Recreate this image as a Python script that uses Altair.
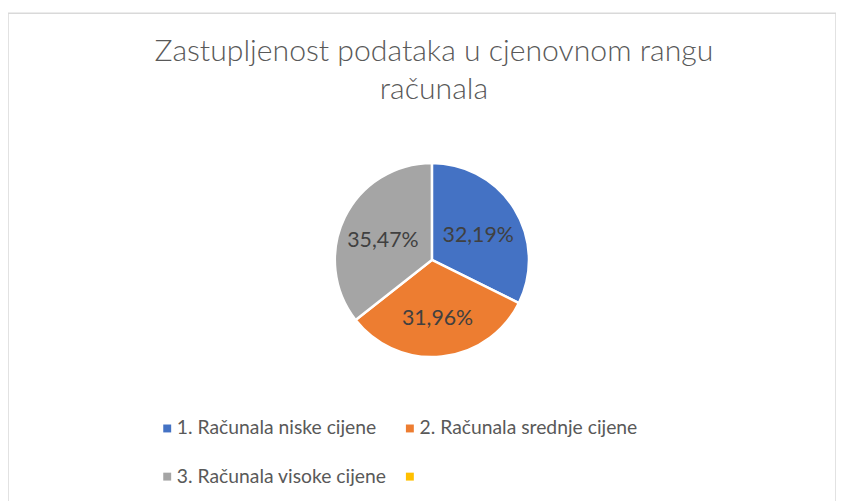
import altair as alt
import pandas as pd

title_lines = ["Zastupljenost podataka u cjenovnom rangu", "računala"]
categories = ["1. Računala niske cijene", "2. Računala srednje cijene", "3. Računala visoke cijene"]
legend_domain = categories + [""]
values = [32.19, 31.96, 35.47]
labels = ["32,19%", "31,96%", "35,47%"]
colors = ["#4472C4", "#ED7D31", "#A5A5A5", "#FFC000"]

df = pd.DataFrame({"kategorija": categories, "udio": values, "oznaka": labels, "red": [1, 2, 3]})

CX, CY, R = 428, 249, 98

base = alt.Chart(df).encode(
    theta=alt.Theta("udio:Q", stack=True),
    order=alt.Order("red:Q"),
)

arc = base.mark_arc(outerRadius=R, stroke="white", strokeWidth=2.5).encode(
    x=alt.value(CX),
    y=alt.value(CY),
    color=alt.Color(
        "kategorija:N",
        scale=alt.Scale(domain=legend_domain, range=colors),
        legend=alt.Legend(
            title=None,
            orient="none",
            legendX=151,
            legendY=409,
            columns=2,
            direction="horizontal",
            symbolType="square",
            symbolSize=64,
            symbolStrokeWidth=0,
            labelFont="Lato",
            labelFontSize=19.5,
            labelColor="#595959",
            labelOffset=0,
            columnPadding=13,
            rowPadding=28,
            labelLimit=400,
        ),
    ),
)

text = base.mark_text(radius=55, font="Lato", fontSize=21.5, color="#404040", dy=5).encode(
    x=alt.value(CX),
    y=alt.value(CY),
    text="oznaka:N",
)

chart = (
    alt.layer(arc, text)
    .properties(
        width=836,
        height=495,
        autosize=alt.AutoSizeParams(type="none"),
        padding={"left": 0, "top": 3, "right": 0, "bottom": 0},
        title=alt.TitleParams(
            text=title_lines,
            anchor="middle",
            font="Lato",
            fontSize=30.5,
            fontWeight=300,
            color="#595959",
            lineHeight=38,
            baseline="top",
            dy=97,
            dx=12,
        ),
    )
    .configure_view(stroke="#D9D9D9", strokeWidth=1.5)
)

chart.save("out.html", embed_options={"renderer": "svg", "actions": False})
